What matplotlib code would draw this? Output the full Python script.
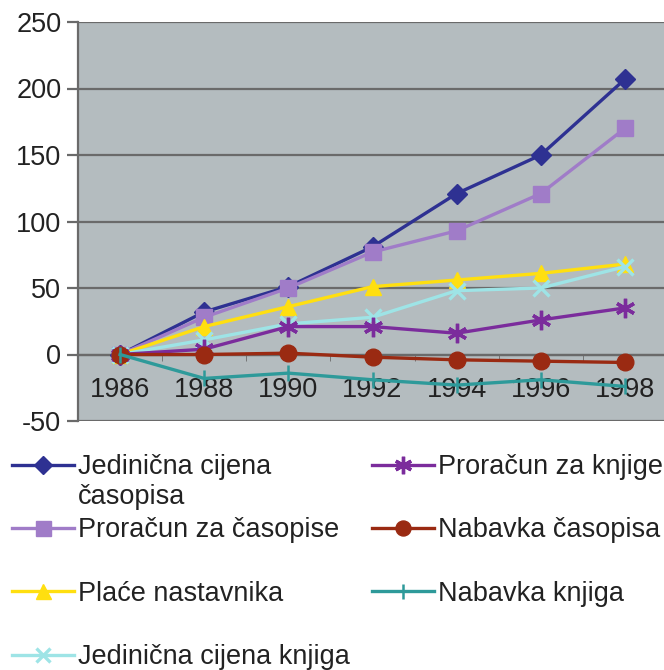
import matplotlib.pyplot as plt

plt.rcParams['font.family'] = ['Liberation Sans', 'DejaVu Sans']
plt.rcParams['axes.unicode_minus'] = False

years = ["1986", "1988", "1990", "1992", "1994", "1996", "1998"]

jed_cijena_casopisa = [0, 32, 51, 81, 121, 150, 207]
proracun_casopisi = [0, 28, 50, 77, 93, 121, 170]
place_nastavnika = [0, 21, 36, 51, 56, 61, 68]
jed_cijena_knjiga = [0, 11, 23, 28, 48, 50, 66]
proracun_knjige = [0, 4, 21, 21, 16, 26, 35]
nabavka_casopisa = [0, 0, 1, -2, -4, -5, -6]
nabavka_knjiga = [0, -18, -14, -19, -23, -19, -24]

x = list(range(len(years)))

fig = plt.figure(figsize=(6.64, 6.70), dpi=100)
ax = fig.add_axes([78 / 664, (670 - 421) / 670, 589 / 664, 399 / 670])
ax.set_facecolor('#b4bcbf')

h1, = ax.plot(x, jed_cijena_casopisa, color='#2e3192', marker='D', ms=10, lw=2.4,
              label="Jedinična cijena")
h2, = ax.plot(x, proracun_casopisi, color='#a07cc8', marker='s', ms=12, lw=2.4,
              label="Proračun za časopise")
h3, = ax.plot(x, place_nastavnika, color='#ffdf10', marker='^', ms=12, lw=2.4,
              label="Plaće nastavnika")
h4, = ax.plot(x, jed_cijena_knjiga, color='#9ee4e6', marker='x', ms=11, mew=2.4, lw=2.4,
              label="Jedinična cijena knjiga")
h5, = ax.plot(x, proracun_knjige, color='#7b2c9c', marker=(6, 2, 0), ms=14, mew=2.4, lw=2.4,
              label="Proračun za knjige")
h6, = ax.plot(x, nabavka_casopisa, color='#9a2a12', marker='o', ms=12, lw=2.4,
              label="Nabavka časopisa")
h7, = ax.plot(x, nabavka_knjiga, color='#2e9a9a', marker='|', ms=12, mew=1.8, lw=2.4,
              label="Nabavka knjiga")

ax.set_xlim(-0.5, 6.5)
ax.set_ylim(-50, 250)
ax.set_yticks(range(-50, 251, 50))
ax.grid(axis='y', color='#6a6a6a', lw=1.6)
ax.set_axisbelow(True)

ax.spines['bottom'].set_position(('data', 0))
ax.spines['bottom'].set_color('#6a6a6a')
ax.spines['bottom'].set_linewidth(1.6)
ax.spines['bottom'].set_zorder(0.5)
ax.spines['left'].set_color('#6a6a6a')
ax.spines['left'].set_linewidth(1.6)
ax.spines['top'].set_visible(False)
ax.spines['right'].set_visible(False)

ax.set_xticks(x)
ax.set_xticklabels(years)
ax.tick_params(axis='x', which='major', length=0, pad=16, labelsize=19.5, labelcolor='#222222')
ax.set_xticks([i + 0.5 for i in x[:-1]], minor=True)
ax.tick_params(axis='x', which='minor', length=4, color='#6a6a6a', direction='out')
ax.tick_params(axis='y', length=8, width=1.6, color='#6a6a6a', pad=4, labelsize=19.5,
               labelcolor='#222222')

leg = fig.legend(handles=[h1, h2, h3, h4, h5, h6, h7], ncol=2, frameon=False,
                 loc='upper left', bbox_to_anchor=(12 / 664, 1 - 454 / 670),
                 borderpad=0, borderaxespad=0, fontsize=19.5, handlelength=2.3,
                 handletextpad=0.15, columnspacing=0.8, labelspacing=1.38,
                 labelcolor='#222222', markerscale=0.9)

fig.canvas.draw()
bb = leg.get_texts()[0].get_window_extent()
fig.text(bb.x0 / 664, (bb.y0 - 4) / 670, "časopisa", fontsize=19.5, color='#222222',
         ha='left', va='top')

fig.savefig('out.png', dpi=100)
